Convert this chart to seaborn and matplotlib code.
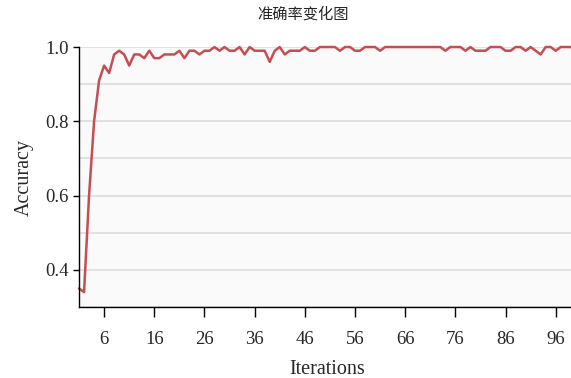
import numpy as np
import pandas as pd
import seaborn as sns
from matplotlib import pyplot as plt
from matplotlib.ticker import MultipleLocator

iterations = list(range(1, 101))
accuracy = [
    0.35, 0.34, 0.60, 0.80, 0.91, 0.95, 0.93, 0.98, 0.99, 0.98,
    0.95, 0.98, 0.98, 0.97, 0.99, 0.97, 0.97, 0.98, 0.98, 0.98,
    0.99, 0.97, 0.99, 0.99, 0.98, 0.99, 0.99, 1.00, 0.99, 1.00,
    0.99, 0.99, 1.00, 0.98, 1.00, 0.99, 0.99, 0.99, 0.96, 0.99,
    1.00, 0.98, 0.99, 0.99, 0.99, 1.00, 0.99, 0.99, 1.00, 1.00,
    1.00, 1.00, 0.99, 1.00, 1.00, 0.99, 0.99, 1.00, 1.00, 1.00,
    0.99, 1.00, 1.00, 1.00, 1.00, 1.00, 1.00, 1.00, 1.00, 1.00,
    1.00, 1.00, 1.00, 0.99, 1.00, 1.00, 1.00, 0.99, 1.00, 0.99,
    0.99, 0.99, 1.00, 1.00, 1.00, 0.99, 0.99, 1.00, 1.00, 0.99,
    1.00, 0.99, 0.98, 1.00, 1.00, 0.99, 1.00, 1.00, 1.00, 0.99,
]
x_ticks = [6, 16, 26, 36, 46, 56, 66, 76, 86, 96]
y_ticks = [0.4, 0.6, 0.8, 1.0]

sns.set_style("ticks")
plt.rcParams['font.family'] = ['Liberation Serif', 'Noto Sans CJK SC']

data = pd.DataFrame({"iteration": iterations, "accuracy": accuracy})

fig = plt.figure(figsize=(5.71, 3.78), dpi=100)
ax = fig.add_axes([0.1384, 0.1878, 0.870, 0.6878])
ax.set_facecolor("#fafafa")

sns.lineplot(data=data, x="iteration", y="accuracy", color="#c44e52", linewidth=1.8, ax=ax)
for line in ax.lines:
    line.set_clip_on(False)

ax.set_xlim(1, 100)
ax.set_ylim(0.3, 1.0)
ax.set_xticks(x_ticks)
ax.set_yticks(y_ticks)
ax.set_yticklabels([f"{v:.1f}" for v in y_ticks])
ax.yaxis.set_minor_locator(MultipleLocator(0.1))
ax.tick_params(axis="y", which="minor", length=0)
ax.tick_params(axis="both", which="major", labelsize=13.5, color="black", width=1)
ax.tick_params(axis="x", length=7, pad=10)
ax.tick_params(axis="y", length=4)
ax.grid(True, axis="y", which="both", color="#dddddd", linewidth=1.2)
ax.set_axisbelow(True)

for side in ["top", "right"]:
    ax.spines[side].set_visible(False)
for side in ["left", "bottom"]:
    ax.spines[side].set_color("black")
    ax.spines[side].set_linewidth(1)

ax.set_xlabel("Iterations", fontsize=14.5, labelpad=9)
ax.set_ylabel("Accuracy", fontsize=14.5, labelpad=8)
fig.text(0.53, 0.962, "准确率变化图", ha="center", va="center", fontsize=11,
         family=['Noto Sans CJK SC'])

fig.savefig("out.png", dpi=100)
